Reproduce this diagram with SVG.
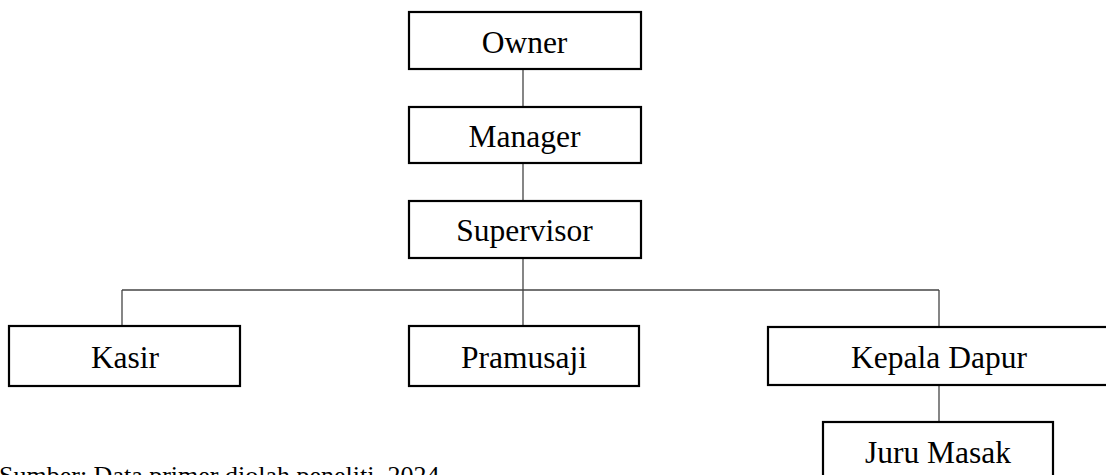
<svg xmlns="http://www.w3.org/2000/svg" width="1106" height="475" viewBox="0 0 1106 475">
<style>
.box{fill:#fff;stroke:#000;stroke-width:2.2}
.lbl{font-family:"Liberation Serif","Times New Roman",serif;font-size:31.5px;fill:#000;text-anchor:middle}
.con{stroke:#444;stroke-width:1.3;fill:none}
.src{font-family:"Liberation Serif","Times New Roman",serif;font-size:26px;fill:#000}
</style>
<rect width="1106" height="475" fill="#fff"/>
<g id="connectors">
<line class="con" x1="523" y1="69" x2="523" y2="107"/>
<line class="con" x1="523" y1="163" x2="523" y2="201"/>
<line class="con" x1="523" y1="258" x2="523" y2="326"/>
<line class="con" x1="122" y1="290" x2="939" y2="290"/>
<line class="con" x1="122" y1="290" x2="122" y2="326"/>
<line class="con" x1="939" y1="290" x2="939" y2="327"/>
<line class="con" x1="939" y1="385" x2="939" y2="422"/>
</g>
<g id="owner"><rect class="box" x="409" y="12" width="232" height="57"/><text class="lbl" x="524.5" y="53">Owner</text></g>
<g id="manager"><rect class="box" x="409" y="107" width="232" height="56"/><text class="lbl" x="524.5" y="146.5">Manager</text></g>
<g id="supervisor"><rect class="box" x="409" y="201" width="232" height="57"/><text class="lbl" x="524.5" y="241">Supervisor</text></g>
<g id="kasir"><rect class="box" x="9" y="326" width="231" height="60"/><text class="lbl" x="125" y="368">Kasir</text></g>
<g id="pramusaji"><rect class="box" x="409" y="326" width="230" height="60"/><text class="lbl" x="524" y="368">Pramusaji</text></g>
<g id="kepala-dapur"><rect class="box" x="768" y="327" width="345" height="58"/><text class="lbl" x="939" y="368">Kepala Dapur</text></g>
<g id="juru-masak"><rect class="box" x="823" y="422" width="230" height="70"/><text class="lbl" x="938" y="463">Juru Masak</text></g>
<text class="src" x="-1" y="484">Sumber: Data primer diolah peneliti, 2024</text>
</svg>
